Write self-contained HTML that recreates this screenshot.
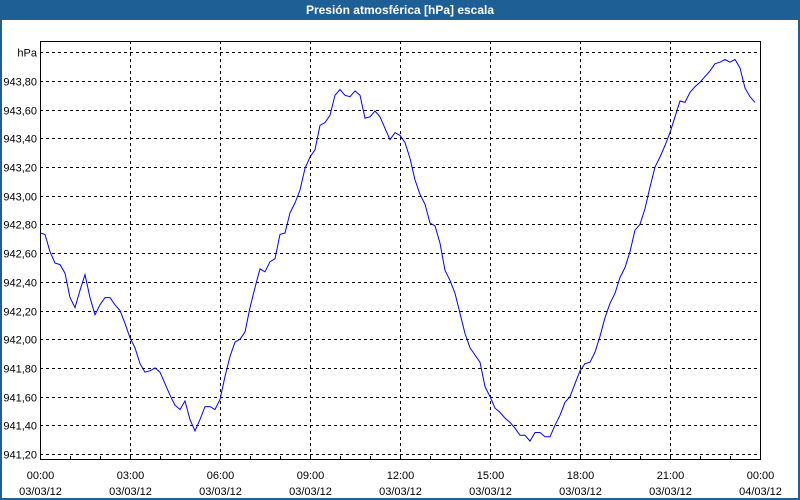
<!DOCTYPE html>
<html><head><meta charset="utf-8"><style>
html,body{margin:0;padding:0;background:#fff;}
#wrap{position:relative;width:800px;height:500px;box-sizing:border-box;border:2px solid #1e5f96;border-top:none;background:#fff;}
#title{position:absolute;left:-2px;top:0;width:800px;height:20px;background:#1e5f96;color:#fff;font:bold 12px "Liberation Sans",sans-serif;text-align:center;line-height:21px;}
svg{position:absolute;left:-2px;top:0;}
text{font-family:"Liberation Sans",sans-serif;font-size:11px;fill:#000;}
</style></head><body>
<div id="wrap">
<div id="title">Presión atmosférica [hPa] escala</div>
<svg id="chart" width="800" height="500"></svg>
</div>
<script>
const yTicks=[941.2,941.4,941.6,941.8,942.0,942.2,942.4,942.6,942.8,943.0,943.2,943.4,943.6,943.8,944.0];
const yTickLabels=["941,20","941,40","941,60","941,80","942,00","942,20","942,40","942,60","942,80","943,00","943,20","943,40","943,60","943,80","hPa"];
const xTickHours=[0,3,6,9,12,15,18,21,24];
const xTickTimes=["00:00","03:00","06:00","09:00","12:00","15:00","18:00","21:00","00:00"];
const xTickDates=["03/03/12","03/03/12","03/03/12","03/03/12","03/03/12","03/03/12","03/03/12","03/03/12","04/03/12"];
const stepMinutes=10;
const pressure=[
942.74,942.73,942.61,942.53,942.52,942.46,942.29,942.22,942.34,942.45,
942.29,942.17,942.24,942.29,942.29,942.24,942.20,942.11,942.01,941.94,
941.83,941.77,941.78,941.80,941.77,941.69,941.61,941.54,941.51,941.57,
941.44,941.36,941.44,941.53,941.53,941.51,941.58,941.74,941.88,941.98,
942.00,
942.05,942.22,942.36,942.49,942.47,942.54,942.56,942.73,942.74,942.88,
942.95,943.04,943.19,943.27,943.32,943.49,943.51,943.56,943.70,943.74,
943.70,943.69,943.73,943.70,943.54,943.55,943.59,943.55,943.47,943.39,
943.44,943.42,
943.37,943.26,943.11,943.01,942.94,942.81,942.79,942.67,942.48,942.41,
942.32,942.18,942.04,941.94,941.89,941.84,941.67,941.60,941.52,941.49,
941.45,941.42,941.38,941.33,941.33,941.29,941.35,941.35,941.32,941.32,
941.40,941.47,941.56,941.60,941.69,941.78,941.83,941.84,941.91,942.02,
942.15,942.25,942.32,942.43,942.50,942.61,942.76,942.80,942.91,943.06,
943.20,943.27,943.35,943.44,943.55,943.66,943.65,943.72,943.76,943.79,
943.83,943.87,943.92,943.93,943.95,943.93,943.95,943.89,943.75,943.69,
943.65];

const L=40,R=760,T=41,B=460;
function xOf(h){return L+h*(R-L)/24;}
function yOf(v){return 454-(v-941.2)*143.5;}
const svg=document.getElementById('chart');
const NS='http://www.w3.org/2000/svg';
function mk(tag,attrs){const e=document.createElementNS(NS,tag);for(const k in attrs)e.setAttribute(k,attrs[k]);svg.appendChild(e);return e;}

yTicks.forEach((v,i)=>{
  const y=Math.round(yOf(v))+0.5;
  const g=mk('line',{x1:L,x2:R,y1:y,y2:y,stroke:'#000','stroke-dasharray':'3,3','stroke-width':1});
  
  
  const t=mk('text',{x:37,y:y+4,'text-anchor':'end'});
  t.textContent=yTickLabels[i];
  
  
});
xTickHours.forEach((h,i)=>{
  const x=Math.round(xOf(h))+0.5;
  if(h>0&&h<24){
    const g=mk('line',{x1:x,x2:x,y1:T,y2:B,stroke:'#000','stroke-dasharray':'3,3','stroke-width':1});
    
    
  }
  const t1=mk('text',{x:x,y:479,'text-anchor':'middle'});
  t1.textContent=xTickTimes[i];
  
  
  const t2=mk('text',{x:x,y:495,'text-anchor':'middle'});
  t2.textContent=xTickDates[i];
  
  
});
for(let h=1;h<24;h++){
  const x=Math.round(xOf(h))+0.5;
  const m=mk('line',{x1:x,x2:x,y1:B-4,y2:B,stroke:'#000'});
  
  
}
const frame=mk('rect',{x:L+0.5,y:T+0.5,width:R-L,height:B-T-1,fill:'none',stroke:'#000','stroke-width':1});


const pts=pressure.map((v,i)=>xOf(i*stepMinutes/60).toFixed(1)+','+yOf(v).toFixed(1)).join(' ');
const line=mk('polyline',{points:pts,fill:'none',stroke:'#0000ff','stroke-width':1});


</script>
</body></html>
